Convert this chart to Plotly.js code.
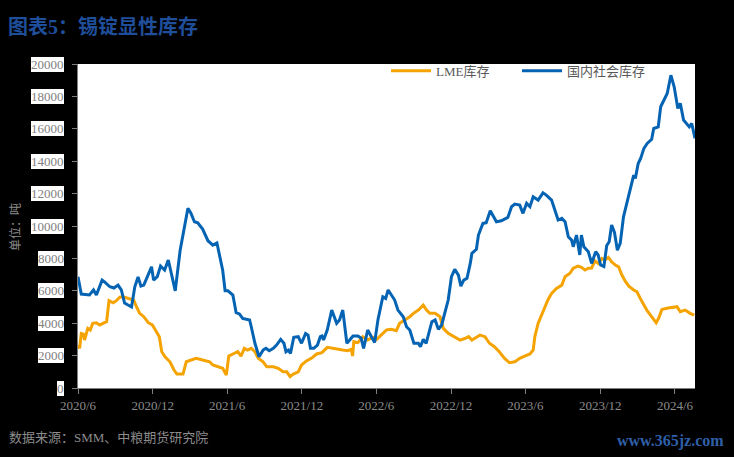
<!DOCTYPE html>
<html><head><meta charset="utf-8">
<script src="https://cdn.plot.ly/plotly-3.0.1.min.js"></script>
<style>html,body{margin:0;padding:0;background:#000;}#chart{width:734px;height:457px;}</style>
</head><body><div id="chart"></div>
<script>
// 国内社会库存 (China social inventory), tonnes
const cnDates = ['2020-06-01','2020-06-09','2020-06-29','2020-07-09','2020-07-16','2020-07-30','2020-08-05','2020-08-18','2020-08-28','2020-09-07','2020-09-15','2020-09-23','2020-10-10','2020-10-18','2020-10-26','2020-11-02','2020-11-09','2020-11-17','2020-11-28','2020-12-03','2020-12-12','2020-12-20','2020-12-30',
'2021-01-08','2021-01-25','2021-02-06','2021-02-25','2021-03-04','2021-03-13','2021-03-21','2021-04-02','2021-04-15','2021-04-27','2021-05-07','2021-05-21','2021-05-27','2021-06-03','2021-06-15','2021-06-23','2021-07-01','2021-07-09','2021-07-18','2021-07-26','2021-07-30','2021-08-08','2021-08-18','2021-08-28','2021-09-04','2021-09-12','2021-09-22','2021-09-30','2021-10-10','2021-10-18','2021-10-23','2021-10-29','2021-11-03','2021-11-11','2021-11-22','2021-11-30','2021-12-10','2021-12-16','2021-12-22','2021-12-30',
'2022-01-08','2022-01-15','2022-01-19','2022-01-23','2022-02-01','2022-02-12','2022-02-24','2022-03-03','2022-03-11','2022-03-21','2022-03-28','2022-04-05','2022-04-17','2022-04-25','2022-05-01','2022-05-11','2022-05-20','2022-05-28','2022-06-05','2022-06-17','2022-06-24','2022-06-30','2022-07-08','2022-07-16','2022-07-24','2022-08-06','2022-08-14','2022-08-22','2022-09-01','2022-09-12','2022-09-17','2022-09-24','2022-10-01','2022-10-15','2022-10-23','2022-10-31','2022-11-08','2022-11-16','2022-11-24','2022-12-02','2022-12-10','2022-12-19','2022-12-25',
'2023-01-01','2023-01-09','2023-01-17','2023-01-21','2023-02-01','2023-02-06','2023-02-17','2023-02-25','2023-03-07','2023-03-22','2023-04-03','2023-04-19','2023-04-28','2023-05-06','2023-05-18','2023-05-26','2023-06-04','2023-06-12','2023-06-20','2023-07-02','2023-07-14','2023-07-22','2023-08-04','2023-08-12','2023-08-20','2023-08-29','2023-09-06','2023-09-14','2023-09-22','2023-09-26','2023-10-04','2023-10-12','2023-10-16','2023-10-22','2023-11-02','2023-11-10','2023-11-20','2023-11-26','2023-12-02','2023-12-10','2023-12-17','2023-12-23','2023-12-29',
'2024-01-05','2024-01-12','2024-01-19','2024-01-27','2024-02-06','2024-02-13','2024-02-21','2024-02-25','2024-03-03','2024-03-09','2024-03-17','2024-03-25','2024-04-05','2024-04-10','2024-04-21','2024-04-27','2024-05-08','2024-05-13','2024-05-22','2024-05-30','2024-06-08','2024-06-14','2024-06-22','2024-06-30','2024-07-06','2024-07-12','2024-07-20'];
const cnValues = [6870,5800,5740,6050,5740,6660,6550,6250,6170,6350,6050,5240,5000,6250,6850,6290,6350,6870,7480,6660,6870,7530,7280,
7900,6000,8510,11090,10800,10260,10200,9810,9090,8820,8950,7280,6000,6000,5740,4650,4570,4300,4240,4200,3780,2760,1930,2340,2450,2300,2450,2650,3000,2760,2240,2340,2140,3130,3170,2760,3370,3270,2450,2450,
2650,3170,3210,2960,3580,4810,3990,4200,4810,2760,2960,3210,3210,3070,2450,3580,3170,2800,4200,5630,5530,6050,5740,5430,4810,4400,3780,3580,2760,2760,2550,3000,2760,4090,4200,3620,3890,4710,5430,6870,7320,6970,6290,
6660,6770,7690,8310,8560,9440,10160,10200,10940,10260,10320,10530,11190,11350,11290,10780,11400,11190,11800,11600,12050,11910,11600,10980,10370,10470,10260,9330,9130,8720,9440,8210,9440,8720,8410,7690,8410,8210,7590,7500,8800,9030,10060,
9600,8510,8930,10570,11600,12320,13140,12940,13860,14170,14790,15100,15350,16020,16120,17360,17870,18180,19310,18590,17260,17570,16540,16290,16120,16330,15410];

// LME库存, tonnes
const lmeDates = ['2020-06-01','2020-06-05','2020-06-09','2020-06-14','2020-06-17','2020-06-25','2020-07-01','2020-07-07','2020-07-16','2020-07-24','2020-08-01','2020-08-10','2020-08-16','2020-08-26','2020-09-03','2020-09-11','2020-09-19','2020-10-02','2020-10-15','2020-10-22','2020-10-30','2020-11-09','2020-11-20','2020-11-30','2020-12-09','2020-12-17','2020-12-23','2020-12-31',
'2021-01-12','2021-01-22','2021-01-29','2021-02-13','2021-02-21','2021-03-05','2021-03-17','2021-04-02','2021-04-19','2021-04-27','2021-05-09','2021-05-21','2021-05-30','2021-06-05','2021-06-15','2021-06-27','2021-07-05','2021-07-13','2021-07-21','2021-07-30','2021-08-08','2021-08-16','2021-08-28','2021-09-06','2021-09-22','2021-10-04','2021-10-16','2021-10-25','2021-11-02','2021-11-10','2021-11-22','2021-11-30','2021-12-12','2021-12-24',
'2022-01-06','2022-01-19','2022-02-01','2022-02-12','2022-02-27','2022-03-11','2022-03-23','2022-04-01','2022-04-04','2022-04-07','2022-04-17','2022-04-29','2022-05-11','2022-05-23','2022-06-02','2022-06-14','2022-06-26','2022-07-08','2022-07-20','2022-07-28','2022-08-10','2022-08-22','2022-08-31','2022-09-12','2022-09-24','2022-10-02','2022-10-10','2022-10-23','2022-11-04','2022-11-12','2022-11-24','2022-12-10','2022-12-23',
'2023-01-05','2023-01-13','2023-01-21','2023-02-03','2023-02-10','2023-02-22','2023-03-05','2023-03-17','2023-03-29','2023-04-11','2023-04-23','2023-05-06','2023-05-18','2023-05-30','2023-06-12','2023-06-20','2023-06-24','2023-07-02','2023-07-10','2023-07-18','2023-07-26','2023-08-04','2023-08-16','2023-08-29','2023-09-06','2023-09-18','2023-09-26','2023-10-08','2023-10-16','2023-10-25','2023-11-02','2023-11-10','2023-11-18','2023-11-26','2023-12-05','2023-12-13','2023-12-21','2023-12-29',
'2024-01-07','2024-01-15','2024-01-23','2024-02-01','2024-02-09','2024-02-21','2024-02-29','2024-03-08','2024-03-16','2024-03-24','2024-04-02','2024-04-10','2024-04-16','2024-04-22','2024-04-30','2024-05-12','2024-05-24','2024-06-06','2024-06-14','2024-06-26','2024-07-08','2024-07-18'];
const lmeValues = [2650,2450,3370,3330,2960,3680,3580,3990,4030,3890,3990,4090,5390,5260,5390,5600,5630,5530,5430,5020,4610,4400,4030,3890,3470,3170,2240,1930,
1620,1110,860,860,1620,1730,1830,1730,1620,1420,1310,1220,800,1970,2100,2240,1970,2450,2340,2450,2240,1830,1620,1310,1310,1220,1000,1000,700,860,1000,1420,1670,1830,
2100,2180,2510,2450,2390,2340,2300,2390,1970,2860,2800,3170,2960,3130,3000,3270,3580,3620,3540,3990,4200,4400,4610,4810,5120,4810,4610,4610,4400,3680,3370,3170,2960,
3070,3170,2960,3170,3270,3170,2760,2550,2240,1830,1560,1620,1830,1970,2100,2340,3170,3990,4500,5020,5430,5840,6150,6350,6870,7080,7390,7530,7450,7280,7390,7400,7850,7690,8000,7900,8060,7790,
7590,7480,6970,6560,6290,6050,5940,5530,5120,4810,4500,4240,4030,4300,4850,4920,4980,5020,4710,4810,4610,4500];

const yTickVals = [0,2000,4000,6000,8000,10000,12000,14000,16000,18000,20000];
const yTickText = ['0','2000','4000','6000','8000','10000','12000','14000','16000','18000','20000'];
const xTickVals = ['2020-06-01','2020-12-01','2021-06-01','2021-12-01','2022-06-01','2022-12-01','2023-06-01','2023-12-01','2024-06-01'];
const xTickText = ['2020/6','2020/12','2021/6','2021/12','2022/6','2022/12','2023/6','2023/12','2024/6'];

const FONT = 'Liberation Serif, "Noto Sans CJK SC", serif';

const traces = [
  {type:'scatter', mode:'lines', name:'LME库存', x:lmeDates, y:lmeValues,
   line:{color:'#f5a300', width:3}},
  {type:'scatter', mode:'lines', name:'国内社会库存', x:cnDates, y:cnValues,
   line:{color:'#0563b3', width:3}}
];

const annotations = yTickVals.map((v,i)=>({
  xref:'paper', yref:'y', x:0, y:v, xanchor:'right', yanchor:'middle', xshift:-14,
  text:yTickText[i], showarrow:false, bgcolor:'#ffffff', borderpad:0, borderwidth:0,
  font:{family:FONT, size:13, color:'#808080'}
}));
annotations.push({xref:'paper', yref:'paper', x:(15-78)/617, y:(388-227)/324, xanchor:'center', yanchor:'middle',
  text:'单位：吨', textangle:-90, showarrow:false, font:{family:FONT, size:12, color:'#8c8c8c'}});
annotations.push({xref:'paper', yref:'paper', x:(7-78)/617, y:(388-437)/324, xanchor:'left', yanchor:'middle',
  text:'数据来源：SMM、中粮期货研究院', showarrow:false, font:{family:FONT, size:13, color:'#8c8c8c'}});
annotations.push({xref:'paper', yref:'paper', x:(670-78)/617, y:(388-441)/324, xanchor:'center', yanchor:'middle',
  text:'<b>www.365jz.com</b>', showarrow:false, font:{family:FONT, size:16, color:'#2f5fa8'}});

const layout = {
  width:734, height:457,
  paper_bgcolor:'#000000', plot_bgcolor:'#ffffff',
  margin:{l:78, r:39, t:64, b:69},
  font:{family:FONT, size:13, color:'#8c8c8c'},
  title:{text:'<b>图表5：锡锭显性库存</b>', xref:'container', x:8/734, xanchor:'left',
         yref:'container', y:1-27/457, yanchor:'middle',
         font:{family:FONT, size:20, color:'#1f4e9a'}},
  xaxis:{type:'date', range:['2020-06-01','2024-07-20'], tickvals:xTickVals, ticktext:xTickText,
         ticks:'outside', ticklen:5, tickcolor:'#808080', showline:true, linecolor:'#808080', linewidth:1,
         showgrid:false, zeroline:false, tickfont:{family:FONT, size:13, color:'#8c8c8c'}},
  yaxis:{range:[0,20000], tickvals:yTickVals, ticks:'outside', ticklen:5, tickcolor:'#808080',
         showticklabels:false, showline:true, linecolor:'#808080', linewidth:1, showgrid:false, zeroline:false},
  showlegend:true,
  legend:{orientation:'h', x:(386-78)/617, xanchor:'left', y:1.025, yanchor:'top',
          font:{family:FONT, size:13, color:'#595959'}, bgcolor:'rgba(0,0,0,0)', itemwidth:40,
          entrywidth:76, entrywidthmode:'pixels'},
  annotations:annotations
};

Plotly.newPlot('chart', traces, layout, {staticPlot:true, displayModeBar:false});
</script></body></html>
